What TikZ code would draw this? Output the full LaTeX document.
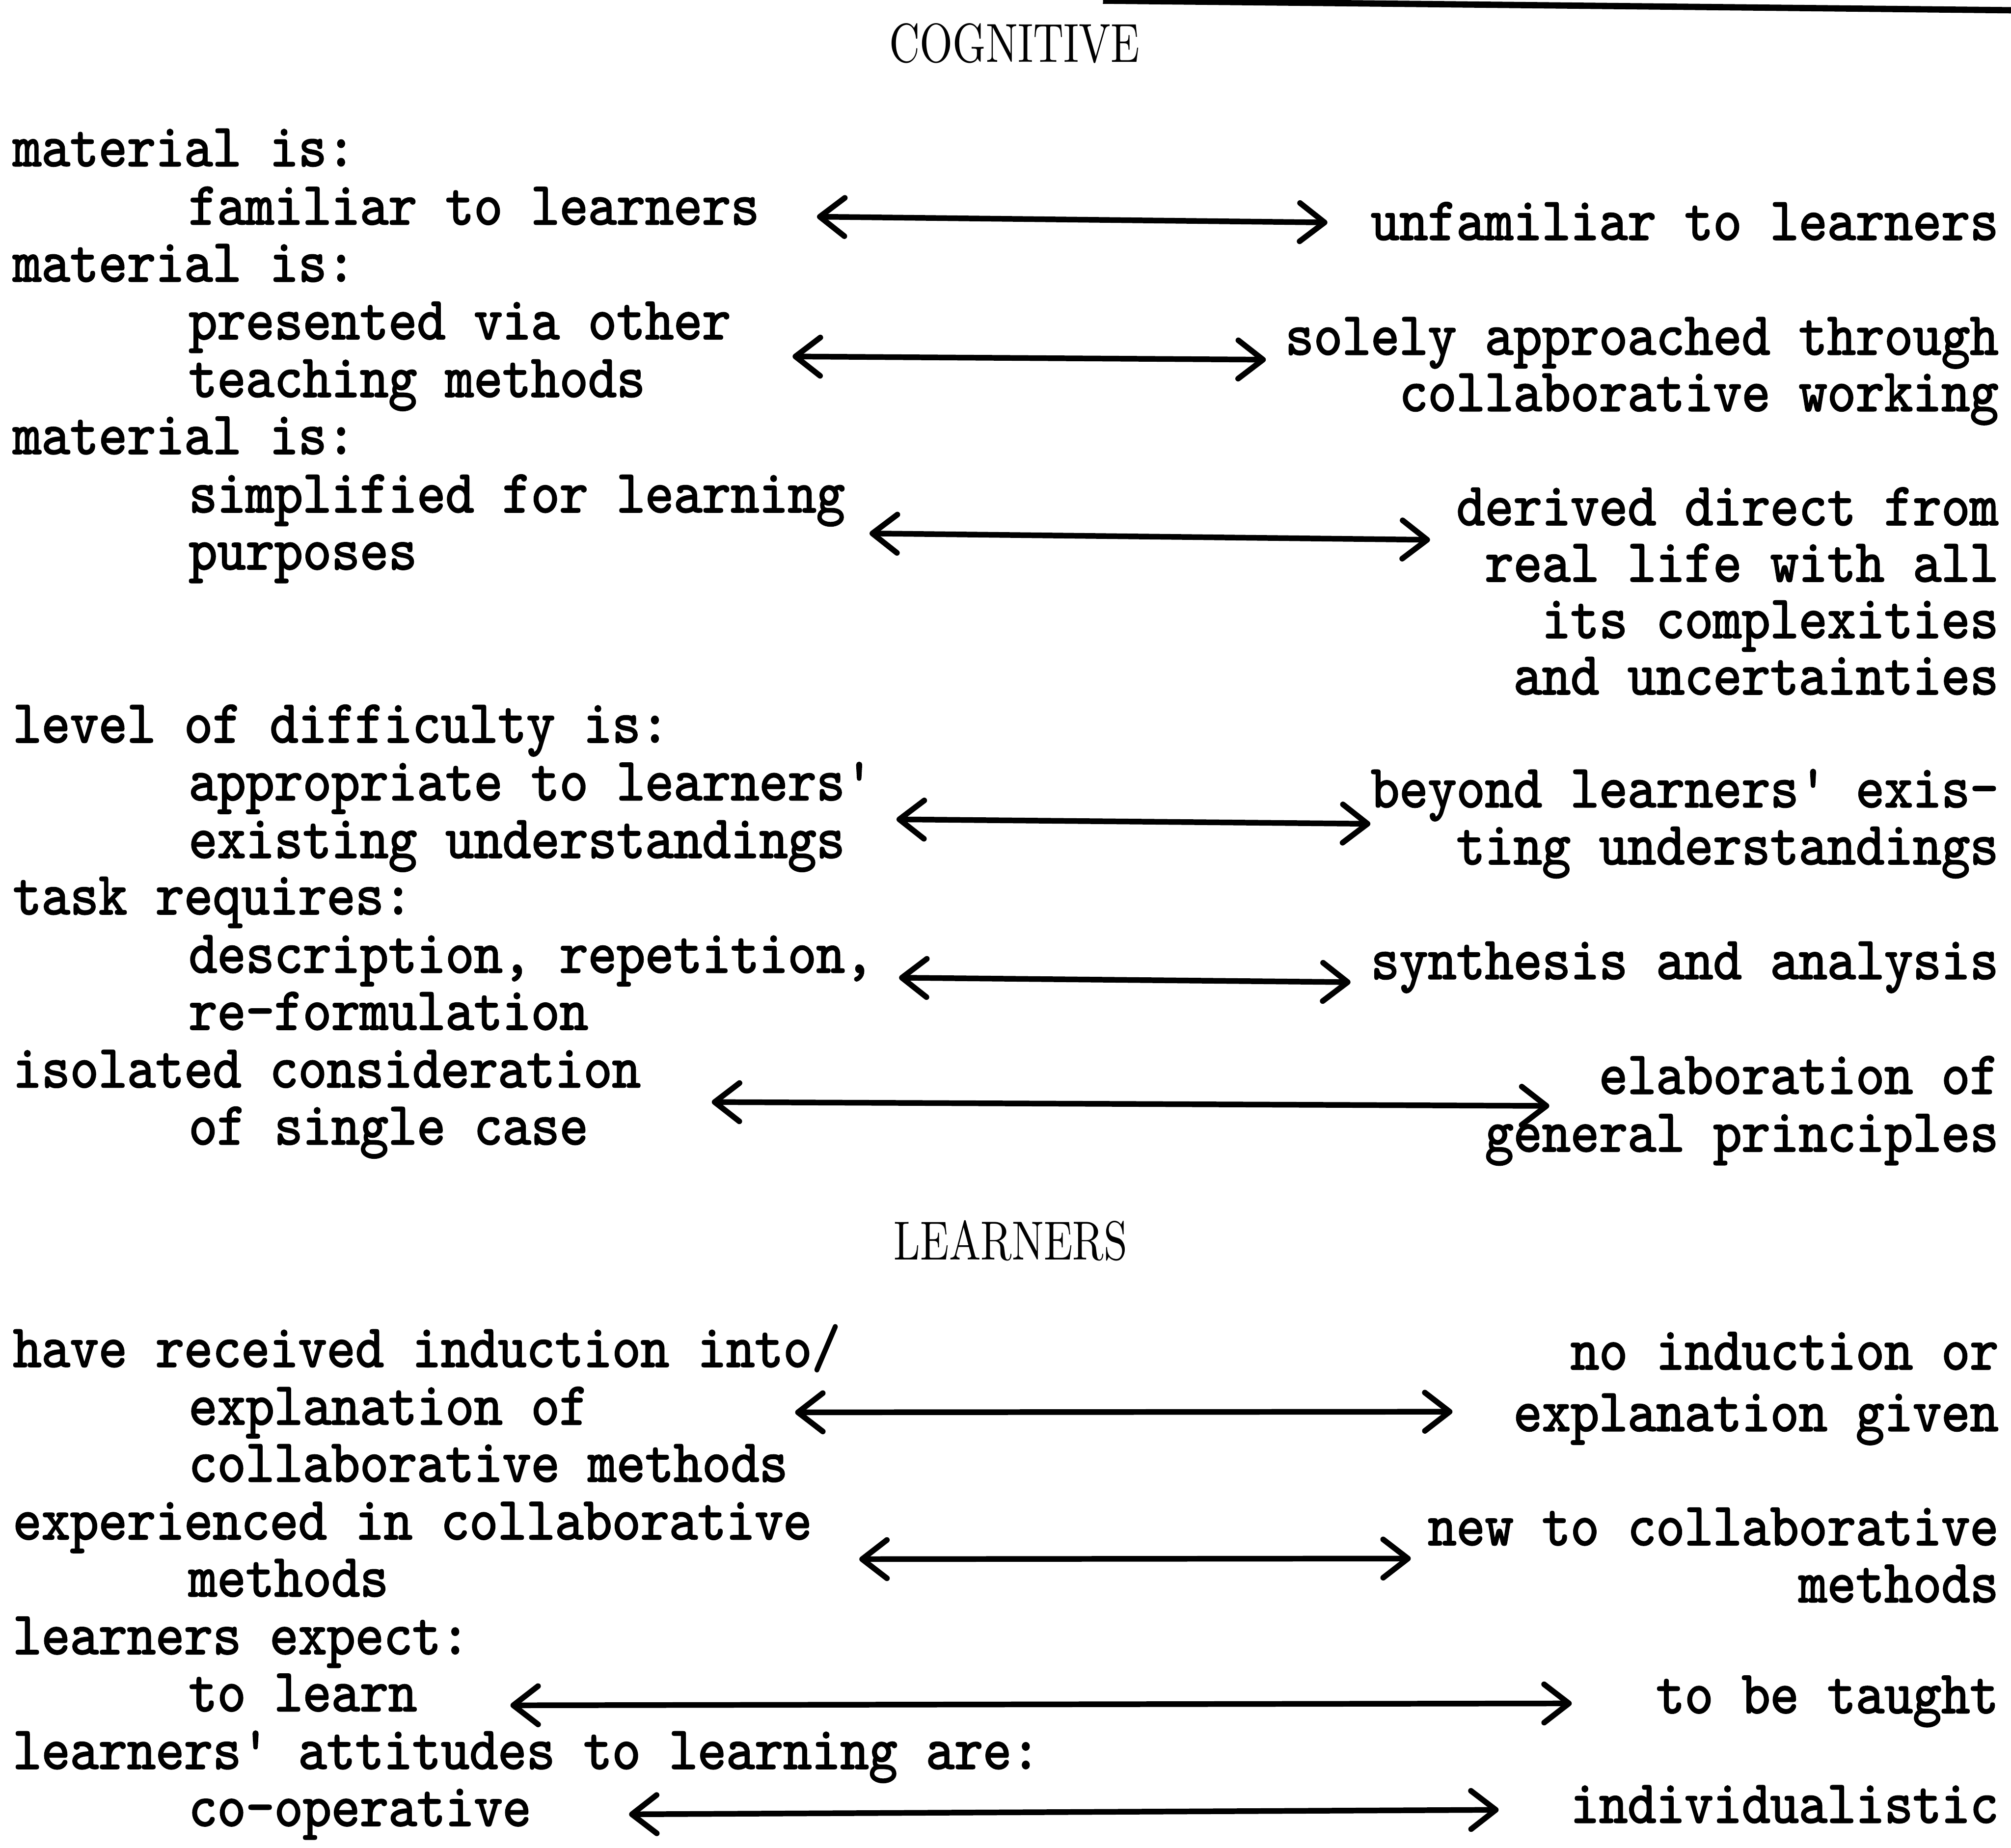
\documentclass[tikz,border=0pt]{standalone}
\usepackage{fontspec}
\usetikzlibrary{arrows.meta}
\newfontfamily\typew[FakeBold=2,FakeStretch=0.893,Ligatures=TeXOff]{lmmono10-regular.otf}
\newfontfamily\headfont[FakeStretch=0.77]{lmroman10-regular.otf}

\begin{document}
\begin{tikzpicture}[x=0.1mm,y=-0.1mm,>={Straight Barb[length=5.5pt,width=8.5pt,round]},line cap=round,line join=round,
  lft/.style={anchor=base west,inner sep=0pt,font=\fontsize{13.5}{16}\typew},
  rgt/.style={anchor=base east,inner sep=0pt,font=\fontsize{13.5}{16}\typew},
  head/.style={anchor=base,inner sep=0pt,font=\fontsize{12.2}{14}\headfont},
  dbl/.style={<->,line width=1.25pt}]
  \useasboundingbox (0,0) rectangle (1568,1441);

  \coordinate (rule-w) at (860,0.5);
  \coordinate (rule-e) at (1570,8);
  \draw[line width=1.4pt,line cap=butt] (rule-w) -- (rule-e);

  \node[head] (cog) at (791,48.5) {COGNITIVE};

  \node[lft] (mat1)   at (9.5,129.5)  {material is:};
  \node[lft] (fam)    at (146.5,175)  {familiar to learners};
  \node[lft] (mat2)   at (9.5,219.5)  {material is:};
  \node[lft] (pres)   at (146.5,264.5) {presented via other};
  \node[lft] (teach)  at (146.5,309.5) {teaching methods};
  \node[lft] (mat3)   at (9.5,354)    {material is:};
  \node[lft] (simp)   at (146.5,399.5) {simplified for learning};
  \node[lft] (purp)   at (146.5,444)  {purposes};
  \node[lft] (lev)    at (9.5,579)    {level of difficulty is:};
  \node[lft] (appr)   at (146.5,624)  {appropriate to learners'};
  \node[lft] (exist)  at (146.5,669)  {existing understandings};
  \node[lft] (task)   at (9.5,713)    {task requires:};
  \node[lft] (descr)  at (146.5,758.5) {description, repetition,};
  \node[lft] (reform) at (146.5,803)  {re-formulation};
  \node[lft] (isol)   at (9.5,848)    {isolated consideration};
  \node[lft] (single) at (146.5,892.5) {of single case};

  \node[rgt] (unfam)  at (1559,187)   {unfamiliar to learners};
  \node[rgt] (solely) at (1559,276.5) {solely approached through};
  \node[rgt] (collab) at (1559,320.5) {collaborative working};
  \node[rgt] (deriv)  at (1559,409.5) {derived direct from};
  \node[rgt] (real)   at (1559,453.5) {real life with all};
  \node[rgt] (compl)  at (1559,497.5) {its complexities};
  \node[rgt] (uncert) at (1559,541.5) {and uncertainties};
  \node[rgt] (beyond) at (1559,629.5) {beyond learners' exis-};
  \node[rgt] (ting)   at (1559,674)   {ting understandings};
  \node[rgt] (synth)  at (1559,763.5) {synthesis and analysis};
  \node[rgt] (elab)   at (1559,853)   {elaboration of};
  \node[rgt] (gen)    at (1559,898)   {general principles};

  \coordinate (a1w) at (637,169);   \coordinate (a1e) at (1035,173.5);
  \coordinate (a2w) at (618,278);   \coordinate (a2e) at (987,280.5);
  \coordinate (a3w) at (678,416);   \coordinate (a3e) at (1115,421);
  \coordinate (a4w) at (699,639);   \coordinate (a4e) at (1068.5,642.5);
  \coordinate (a5w) at (701,762.5); \coordinate (a5e) at (1053,766);
  \coordinate (a6w) at (555,859.5); \coordinate (a6e) at (1208,862.5);
  \draw[dbl] (a1w) -- (a1e);
  \draw[dbl] (a2w) -- (a2e);
  \draw[dbl] (a3w) -- (a3e);
  \draw[dbl] (a4w) -- (a4e);
  \draw[dbl] (a5w) -- (a5e);
  \draw[dbl] (a6w) -- (a6e);

  \node[head] (lrn) at (788,982.5) {LEARNERS};

  \node[lft] (induct) at (9.5,1066)   {have received induction into/};
  \node[lft] (expl)   at (146.5,1111) {explanation of};
  \node[lft] (colm)   at (146.5,1155.5) {collaborative methods};
  \node[lft] (exper)  at (9.5,1200.5) {experienced in collaborative};
  \node[lft] (meth)   at (146.5,1245) {methods};
  \node[lft] (expect) at (9.5,1290)   {learners expect:};
  \node[lft] (learn)  at (146.5,1334.5) {to learn};
  \node[lft] (attit)  at (9.5,1379.5) {learners' attitudes to learning are:};
  \node[lft] (coop)   at (146.5,1424) {co-operative};

  \node[rgt] (noind)  at (1559,1068)  {no induction or};
  \node[rgt] (given)  at (1559,1116)  {explanation given};
  \node[rgt] (newto)  at (1559,1205)  {new to collaborative};
  \node[rgt] (meth2)  at (1559,1249.5) {methods};
  \node[rgt] (taught) at (1559,1336)  {to be taught};
  \node[rgt] (indiv)  at (1559,1421.5) {individualistic};

  \coordinate (b1w) at (620,1101.5); \coordinate (b1e) at (1132.5,1101);
  \coordinate (b2w) at (670,1216);   \coordinate (b2e) at (1100,1215.5);
  \coordinate (b3w) at (398,1330);   \coordinate (b3e) at (1225.5,1328.5);
  \coordinate (b4w) at (490.5,1415); \coordinate (b4e) at (1168.5,1411.5);
  \draw[dbl] (b1w) -- (b1e);
  \draw[dbl] (b2w) -- (b2e);
  \draw[dbl] (b3w) -- (b3e);
  \draw[dbl] (b4w) -- (b4e);
\end{tikzpicture}
\end{document}
